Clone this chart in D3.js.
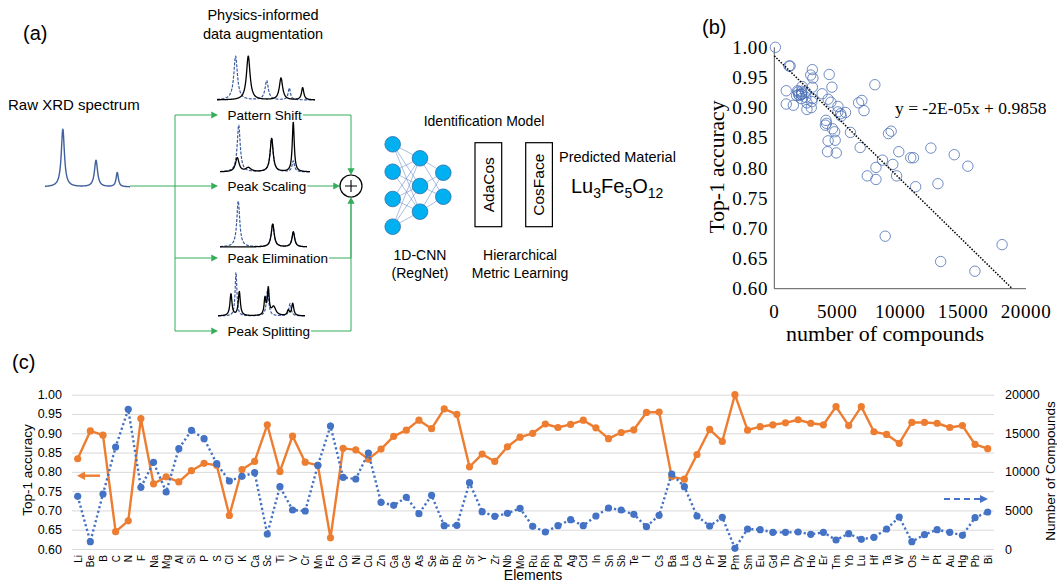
<!DOCTYPE html>
<html>
<head>
<meta charset="utf-8">
<script src="https://cdn.jsdelivr.net/npm/d3@7"></script>
<style>
  body { margin: 0; background: #fff; }
  svg { display: block; }
  text { font-family: "Liberation Sans", Arial, sans-serif; fill: #000; }
  .serif text, text.serif { font-family: "Liberation Serif", "Times New Roman", serif; }
</style>
</head>
<body>
<svg id="fig" width="1057" height="585"></svg>
<script>
// ---- data (panel c, also used for scatter in panel b) ----
var elements = ["Li","Be","B","C","N","F","Na","Mg","Al","Si","P","S","Cl","K","Ca","Sc","Ti","V","Cr","Mn","Fe",
  "Co","Ni","Cu","Zn","Ga","Ge","As","Se","Br","Rb","Sr","Y","Zr","Nb","Mo","Ru","Rh","Pd","Ag","Cd","In","Sn","Sb","Te",
  "I","Cs","Ba","La","Ce","Pr","Nd","Pm","Sm","Eu","Gd","Tb","Dy","Ho","Er","Tm","Yb","Lu","Hf","Ta","W","Os","Ir","Pt",
  "Au","Hg","Pb","Bi"];
var accuracy = [0.834,0.906,0.895,0.645,0.673,0.938,0.769,0.787,0.774,0.803,0.822,0.817,0.687,0.806,0.827,0.922,0.801,0.893,0.825,0.817,0.629,
  0.861,0.857,0.833,0.859,0.892,0.908,0.934,0.912,0.963,0.949,0.813,0.846,0.827,0.865,0.890,0.900,0.924,0.915,0.923,0.934,0.914,0.886,0.902,0.909,
  0.954,0.955,0.787,0.781,0.845,0.910,0.879,1.000,0.908,0.917,0.922,0.927,0.935,0.926,0.922,0.969,0.920,0.969,0.904,0.897,0.874,0.928,0.928,0.926,
  0.915,0.920,0.871,0.860];
var compounds = [6825,950,7127,13218,18099,7991,11231,7387,13002,15378,14298,11058,8812,9417,9892,1944,8078,5054,4924,10842,15940,
  9287,9071,12441,6048,5659,6695,4579,6955,3024,3067,8596,4838,4233,4622,5270,2937,2203,3024,3801,3024,4276,5313,5054,4492,
  2894,4363,9719,8078,4276,2981,4104,86,2592,2505,2160,2160,2203,1901,2160,1166,1987,1253,1512,2592,4147,950,1857,2505,
  2160,1771,4060,4795];
var accTicks = [0.60,0.65,0.70,0.75,0.80,0.85,0.90,0.95,1.00];
var numTicks = [0,5000,10000,15000,20000];
var trendSlope = -2.04e-5, trendIntercept = 0.9858;

// ---- illustrative spectra for panel a: [position 0-1, relative height, width] ----
var rawPeaks = [[0.21,1,0.022],[0.60,0.46,0.022],[0.85,0.25,0.016]];
var shiftRef = [[0.19,1,0.022],[0.507,0.44,0.02],[0.738,0.27,0.014]];
var shiftOut = [[0.319,1,0.022],[0.653,0.5,0.02],[0.874,0.28,0.014]];
var scaleRef = [[0.208,0.94,0.02],[0.574,0.67,0.02],[0.814,0.22,0.016]];
var scaleOut = [[0.192,0.28,0.024],[0.315,0.08,0.035],[0.574,0.67,0.02],[0.814,1.0,0.013]];
var elimRef = [[0.21,1,0.02],[0.606,0.5,0.02],[0.843,0.33,0.018]];
var elimOut = [[0.606,0.5,0.02],[0.843,0.33,0.018]];
var splitRef = [[0.207,1,0.012],[0.57,0.6,0.016],[0.828,0.28,0.016]];
var splitOut = [[0.149,0.5,0.014],[0.245,0.55,0.014],[0.54,0.38,0.012],[0.578,0.6,0.012],[0.64,0.2,0.03],[0.808,0.12,0.014],[0.859,0.28,0.014]];

var svg = d3.select("#fig");
var green = "#35ad5a";
var orange = "#ED7D31", blue = "#4472C4";

// =============== panel (c) ===============
var gc = svg.append("g");
var xC = d3.scalePoint().domain(elements).range([77.7, 987.7]);
var yAcc = d3.scaleLinear().domain([0.6, 1]).range([549, 394.7]);
var yNum = d3.scaleLinear().domain([0, 20000]).range([549, 394.7]);

var leftAx = gc.append("g").attr("transform", "translate(72,0)")
  .call(d3.axisLeft(yAcc).tickValues(accTicks).tickFormat(d3.format(".2f")).tickSize(-922).tickPadding(10));
leftAx.select(".domain").remove();
leftAx.selectAll(".tick line").attr("stroke", "#d9d9d9").attr("stroke-width", 1);
leftAx.selectAll("text").style("font-size", "12.5px").style("font-family", "Liberation Sans, Arial, sans-serif").attr("fill", "#000");

var rightAx = gc.append("g").attr("transform", "translate(994,0)")
  .call(d3.axisRight(yNum).tickValues(numTicks).tickFormat(d3.format("d")).tickSize(0).tickPadding(11));
rightAx.select(".domain").remove();
rightAx.selectAll("text").style("font-size", "12.5px").style("font-family", "Liberation Sans, Arial, sans-serif").attr("fill", "#000");

gc.selectAll("text.el").data(elements).enter().append("text")
  .attr("class", "el")
  .attr("transform", function(d) { return "translate(" + (xC(d) + 0.5) + ",555) rotate(-90)"; })
  .attr("text-anchor", "end").attr("dy", "0.35em")
  .style("font-size", "10px").text(function(d) { return d; });

var lineAcc = d3.line().x(function(d, i) { return xC(elements[i]); }).y(function(d) { return yAcc(d); });
var lineNum = d3.line().x(function(d, i) { return xC(elements[i]); }).y(function(d) { return yNum(d); });

gc.append("path").datum(accuracy).attr("d", lineAcc)
  .attr("fill", "none").attr("stroke", orange).attr("stroke-width", 2.4).attr("stroke-linejoin", "round");
gc.selectAll("circle.acc").data(accuracy).enter().append("circle")
  .attr("cx", function(d, i) { return xC(elements[i]); }).attr("cy", function(d) { return yAcc(d); })
  .attr("r", 3.6).attr("fill", orange);

gc.append("path").datum(compounds).attr("d", lineNum)
  .attr("fill", "none").attr("stroke", blue).attr("stroke-width", 2.4).attr("stroke-dasharray", "2.2,2.6");
gc.selectAll("circle.num").data(compounds).enter().append("circle")
  .attr("cx", function(d, i) { return xC(elements[i]); }).attr("cy", function(d) { return yNum(d); })
  .attr("r", 3.6).attr("fill", blue);

// arrows indicating axes
gc.append("line").attr("x1", 100).attr("x2", 84).attr("y1", 475.7).attr("y2", 475.7)
  .attr("stroke", orange).attr("stroke-width", 2.4);
gc.append("path").attr("d", "M77,475.7 L85,471.5 L85,479.9 Z").attr("fill", orange);
gc.append("line").attr("x1", 944).attr("x2", 981).attr("y1", 499).attr("y2", 499)
  .attr("stroke", blue).attr("stroke-width", 2).attr("stroke-dasharray", "6,4");
gc.append("path").attr("d", "M988,499 L980,495 L980,503 Z").attr("fill", blue);

gc.append("text").attr("transform", "translate(27,470) rotate(-90)").attr("text-anchor", "middle")
  .attr("dy", "0.35em").style("font-size", "13.5px").text("Top-1 accuracy");
gc.append("text").attr("transform", "translate(1050,471) rotate(-90)").attr("text-anchor", "middle")
  .attr("dy", "0.35em").style("font-size", "13.5px").text("Number of Compounds");
gc.append("text").attr("x", 533).attr("y", 580).attr("text-anchor", "middle")
  .style("font-size", "14px").text("Elements");
gc.append("text").attr("x", 12).attr("y", 369).style("font-size", "20px").text("(c)");

// =============== panel (b) ===============
var gb = svg.append("g").attr("class", "serif");
var xB = d3.scaleLinear().domain([0, 20000]).range([774.3, 1026]);
var yB = d3.scaleLinear().domain([0.6, 1]).range([288.7, 47.3]);

gb.append("line").attr("x1", xB(0)).attr("x2", xB(0)).attr("y1", yB(1)).attr("y2", yB(0.6))
  .attr("stroke", "#595959").attr("stroke-width", 1);
gb.append("line").attr("x1", xB(0)).attr("x2", xB(20000)).attr("y1", yB(0.6)).attr("y2", yB(0.6))
  .attr("stroke", "#595959").attr("stroke-width", 1);

gb.selectAll("text.yt").data(accTicks).enter().append("text")
  .attr("x", 768).attr("y", function(d) { return yB(d); }).attr("dy", "0.35em")
  .attr("text-anchor", "end").style("font-size", "19px").style("letter-spacing", "0.6px")
  .text(function(d) { return d3.format(".2f")(d); });
gb.selectAll("text.xt").data(numTicks).enter().append("text")
  .attr("x", function(d) { return xB(d); }).attr("y", 311).attr("dy", "0.35em")
  .attr("text-anchor", "middle").style("font-size", "19px").style("letter-spacing", "0.6px")
  .text(function(d) { return d; });

gb.selectAll("circle").data(compounds).enter().append("circle")
  .attr("cx", function(d) { return xB(d); })
  .attr("cy", function(d, i) { return yB(accuracy[i]); })
  .attr("r", 5.2).attr("fill", "none").attr("stroke", "#4a6fb5").attr("stroke-width", 0.8);

var xEnd = (0.6 - trendIntercept) / trendSlope;
gb.append("line").attr("x1", xB(0)).attr("y1", yB(trendIntercept))
  .attr("x2", xB(xEnd)).attr("y2", yB(0.6))
  .attr("stroke", "#000").attr("stroke-width", 1.5).attr("stroke-dasharray", "1.5,1.5");

gb.append("text").attr("x", 895).attr("y", 108).attr("dy", "0.35em")
  .style("font-size", "17.5px").text("y = -2E-05x + 0.9858");
gb.append("text").attr("transform", "translate(716,167) rotate(-90)").attr("text-anchor", "middle")
  .attr("dy", "0.35em").style("font-size", "21.5px").text("Top-1 accuracy");
gb.append("text").attr("x", 885).attr("y", 333).attr("dy", "0.35em").attr("text-anchor", "middle")
  .style("font-size", "22px").text("number of compounds");
svg.append("text").attr("x", 702).attr("y", 34).style("font-size", "20px").text("(b)");

// =============== panel (a) ===============
var ga = svg.append("g");

function spectrum(peaks, x0, x1, yBase, h, color, dash, wdt) {
  var xs = d3.scaleLinear().domain([0, 1]).range([x0, x1]);
  var ys = d3.scaleLinear().domain([0, 1]).range([yBase, yBase - h]);
  var pts = d3.range(0, 1.0001, 0.0025).map(function(t) {
    var v = 0;
    peaks.forEach(function(p) { v += p[1] * p[2] * p[2] / ((t - p[0]) * (t - p[0]) + p[2] * p[2]); });
    return [t, v];
  });
  var ln = d3.line().x(function(d) { return xs(d[0]); }).y(function(d) { return ys(d[1]); }).curve(d3.curveBasis);
  var path = ga.append("path").datum(pts).attr("d", ln)
    .attr("fill", "none").attr("stroke", color).attr("stroke-width", wdt).attr("stroke-linejoin", "round");
  if (dash) path.attr("stroke-dasharray", dash);
}

var specBlue = "#3d5c9f";
spectrum(rawPeaks, 45, 130, 187, 58, "#40609e", null, 1.4);
spectrum(shiftRef, 217, 315, 100, 44, specBlue, "3,1.4", 1.2);
spectrum(shiftOut, 217, 315, 100, 44, "#000", null, 1.3);
spectrum(scaleRef, 220, 310, 172, 50, specBlue, "3,1.4", 1.2);
spectrum(scaleOut, 220, 310, 172, 50, "#000", null, 1.3);
spectrum(elimRef, 220, 307, 247, 46, specBlue, "3,1.4", 1.2);
spectrum(elimOut, 220, 307, 247, 46, "#000", null, 1.3);
spectrum(splitRef, 218, 305, 316, 44, specBlue, "3,1.4", 1.2);
spectrum(splitOut, 218, 305, 316, 44, "#000", null, 1.3);

function arrowHead(x, y, dir) {
  var s = 4.5, p;
  if (dir === "right") p = [[x, y], [x - s * 1.5, y - s * 0.8], [x - s * 1.5, y + s * 0.8]];
  if (dir === "down") p = [[x, y], [x - s * 0.8, y - s * 1.5], [x + s * 0.8, y - s * 1.5]];
  if (dir === "up") p = [[x, y], [x - s * 0.8, y + s * 1.5], [x + s * 0.8, y + s * 1.5]];
  ga.append("path").attr("d", d3.line()(p) + "Z").attr("fill", green);
}
function gline(pts) {
  ga.append("path").attr("d", d3.line()(pts)).attr("fill", "none")
    .attr("stroke", green).attr("stroke-width", 1);
}

var branches = [
  { label: "Pattern Shift", y: 115 },
  { label: "Peak Scaling", y: 186 },
  { label: "Peak Elimination", y: 258 },
  { label: "Peak Splitting", y: 331 }
];
var cx = 351, cy = 186, cr = 11;
gline([[130, 186], [175, 186]]);
gline([[175, 115], [175, 331]]);
branches.forEach(function(b) {
  gline([[175, b.y], [211, b.y]]);
  arrowHead(218, b.y, "right");
  var t = ga.append("text").attr("x", 227.5).attr("y", b.y).attr("dy", "0.35em")
    .style("font-size", "13.5px").text(b.label);
  var xe = 227.5 + t.node().getComputedTextLength() + 1;
  if (b.y < cy) { gline([[xe, b.y], [cx, b.y], [cx, cy - cr - 6]]); arrowHead(cx, cy - cr, "down"); }
  else if (b.y === cy) { gline([[xe, b.y], [cx - cr - 6, b.y]]); arrowHead(cx - cr, cy, "right"); }
  else { gline([[xe, b.y], [cx, b.y], [cx, cy + cr + 6]]); }
});
arrowHead(cx, cy + cr, "up");
ga.append("circle").attr("cx", cx).attr("cy", cy).attr("r", cr)
  .attr("fill", "#fff").attr("stroke", "#000").attr("stroke-width", 1.2);
ga.append("path").attr("d", "M" + (cx - 6) + "," + cy + "H" + (cx + 6) + "M" + cx + "," + (cy - 6) + "V" + (cy + 6))
  .attr("stroke", "#000").attr("stroke-width", 1.1);

ga.append("text").attr("x", 23).attr("y", 40).style("font-size", "20px").text("(a)");
ga.append("text").attr("x", 263).attr("y", 20).attr("text-anchor", "middle").style("font-size", "14.5px").text("Physics-informed");
ga.append("text").attr("x", 263).attr("y", 39).attr("text-anchor", "middle").style("font-size", "14.5px").text("data augmentation");
ga.append("text").attr("x", 8).attr("y", 110).style("font-size", "15px").text("Raw XRD spectrum");

// neural net
var layers = [
  { x: 392.7, ys: [144.3, 171.7, 199, 226.7] },
  { x: 420, ys: [158.3, 186, 211.7] },
  { x: 443.3, ys: [172.7, 196.7] }
];
for (var l = 0; l < layers.length - 1; l++) {
  layers[l].ys.forEach(function(y1) {
    layers[l + 1].ys.forEach(function(y2) {
      ga.append("line").attr("x1", layers[l].x).attr("y1", y1).attr("x2", layers[l + 1].x).attr("y2", y2)
        .attr("stroke", "#5a7cc4").attr("stroke-width", 0.5);
    });
  });
}
layers.forEach(function(L) {
  L.ys.forEach(function(y) {
    ga.append("circle").attr("cx", L.x).attr("cy", y).attr("r", 7.8)
      .attr("fill", "#00b0f0").attr("stroke", "#2f6fa8").attr("stroke-width", 0.8);
  });
});
ga.append("text").attr("x", 484).attr("y", 121).attr("dy", "0.35em").attr("text-anchor", "middle")
  .style("font-size", "14px").text("Identification Model");
ga.append("text").attr("x", 420).attr("y", 255).attr("dy", "0.35em").attr("text-anchor", "middle")
  .style("font-size", "14px").text("1D-CNN");
ga.append("text").attr("x", 420).attr("y", 273).attr("dy", "0.35em").attr("text-anchor", "middle")
  .style("font-size", "14px").text("(RegNet)");

[{ x: 475, t: "AdaCos" }, { x: 525.7, t: "CosFace" }].forEach(function(b) {
  ga.append("rect").attr("x", b.x).attr("y", 142.7).attr("width", 26.7).attr("height", 84)
    .attr("fill", "none").attr("stroke", "#000").attr("stroke-width", 1.2);
  ga.append("text").attr("transform", "translate(" + (b.x + 13.3) + ",184.7) rotate(-90)")
    .attr("text-anchor", "middle").attr("dy", "0.35em").style("font-size", "15.5px").text(b.t);
});
ga.append("text").attr("x", 520).attr("y", 255).attr("dy", "0.35em").attr("text-anchor", "middle")
  .style("font-size", "14px").text("Hierarchical");
ga.append("text").attr("x", 520).attr("y", 273).attr("dy", "0.35em").attr("text-anchor", "middle")
  .style("font-size", "14px").text("Metric Learning");
ga.append("text").attr("x", 559).attr("y", 157).attr("dy", "0.35em").style("font-size", "14.5px").text("Predicted Material");
var f = ga.append("text").attr("x", 571).attr("y", 193).style("font-size", "20px");
f.append("tspan").text("Lu");
f.append("tspan").attr("dy", 5).style("font-size", "14px").text("3");
f.append("tspan").attr("dy", -5).text("Fe");
f.append("tspan").attr("dy", 5).style("font-size", "14px").text("5");
f.append("tspan").attr("dy", -5).text("O");
f.append("tspan").attr("dy", 5).style("font-size", "14px").text("12");
</script>
</body>
</html>
